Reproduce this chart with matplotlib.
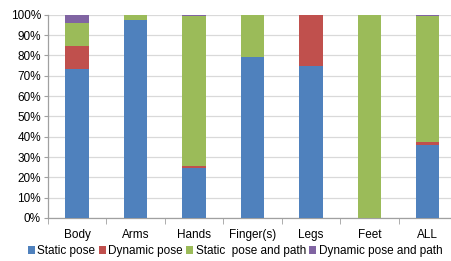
import numpy as np
import matplotlib.pyplot as plt
from matplotlib.ticker import FixedLocator, PercentFormatter

plt.rcParams['font.family'] = ['Liberation Sans', 'DejaVu Sans']

categories = ['Body', 'Arms', 'Hands', 'Finger(s)', 'Legs', 'Feet', 'ALL']
static_pose = [73.5, 97.5, 24.7, 79.2, 74.8, 0, 35.9]
dynamic_pose = [11.0, 0, 0.7, 0, 25.2, 0, 1.5]
static_path = [11.5, 2.5, 74.1, 20.8, 0, 100, 61.9]
dynamic_path = [4.0, 0, 0.5, 0, 0, 0, 0.7]

series = [
    ('Static pose', static_pose, '#4F81BD'),
    ('Dynamic pose', dynamic_pose, '#C0504D'),
    ('Static  pose and path', static_path, '#9BBB59'),
    ('Dynamic pose and path', dynamic_path, '#8064A2'),
]

fig = plt.figure(figsize=(4.52, 2.61), dpi=100)
ax = fig.add_axes([0.106, 0.165, 0.905, 0.778])

x = np.arange(len(categories))
bottom = np.zeros(len(categories))
for name, vals, col in series:
    ax.bar(x, vals, 0.4, bottom=bottom, color=col, label=name, zorder=3)
    bottom += np.array(vals)

ax.set_xlim(-0.5, len(categories) - 0.5)
ax.set_ylim(0, 100)
ax.set_yticks(np.arange(0, 101, 10))
ax.yaxis.set_major_formatter(PercentFormatter(decimals=0))
ax.grid(axis='y', color='#D9D9D9', linewidth=0.9, zorder=0)

ax.set_xticks(x)
ax.set_xticklabels(categories)
ax.xaxis.set_minor_locator(FixedLocator(np.arange(-0.5, len(categories), 1)))
ax.tick_params(axis='x', which='major', length=0, pad=8, labelsize=8.5)
ax.tick_params(axis='x', which='minor', length=4, color='#A0A0A0')
ax.tick_params(axis='y', length=3, color='#A0A0A0', labelsize=8.5, pad=2)

for s in ['top', 'right']:
    ax.spines[s].set_visible(False)
for s in ['left', 'bottom']:
    ax.spines[s].set_color('#A0A0A0')
    ax.spines[s].set_linewidth(0.9)

fig.legend(loc='center', bbox_to_anchor=(235 / 452, 1 - 251 / 261), ncol=4, frameon=False,
           fontsize=8.5, handlelength=0.6, handleheight=0.6, handletextpad=0.2,
           columnspacing=0.3, borderaxespad=0, borderpad=0)

fig.savefig('out.png', dpi=100)
